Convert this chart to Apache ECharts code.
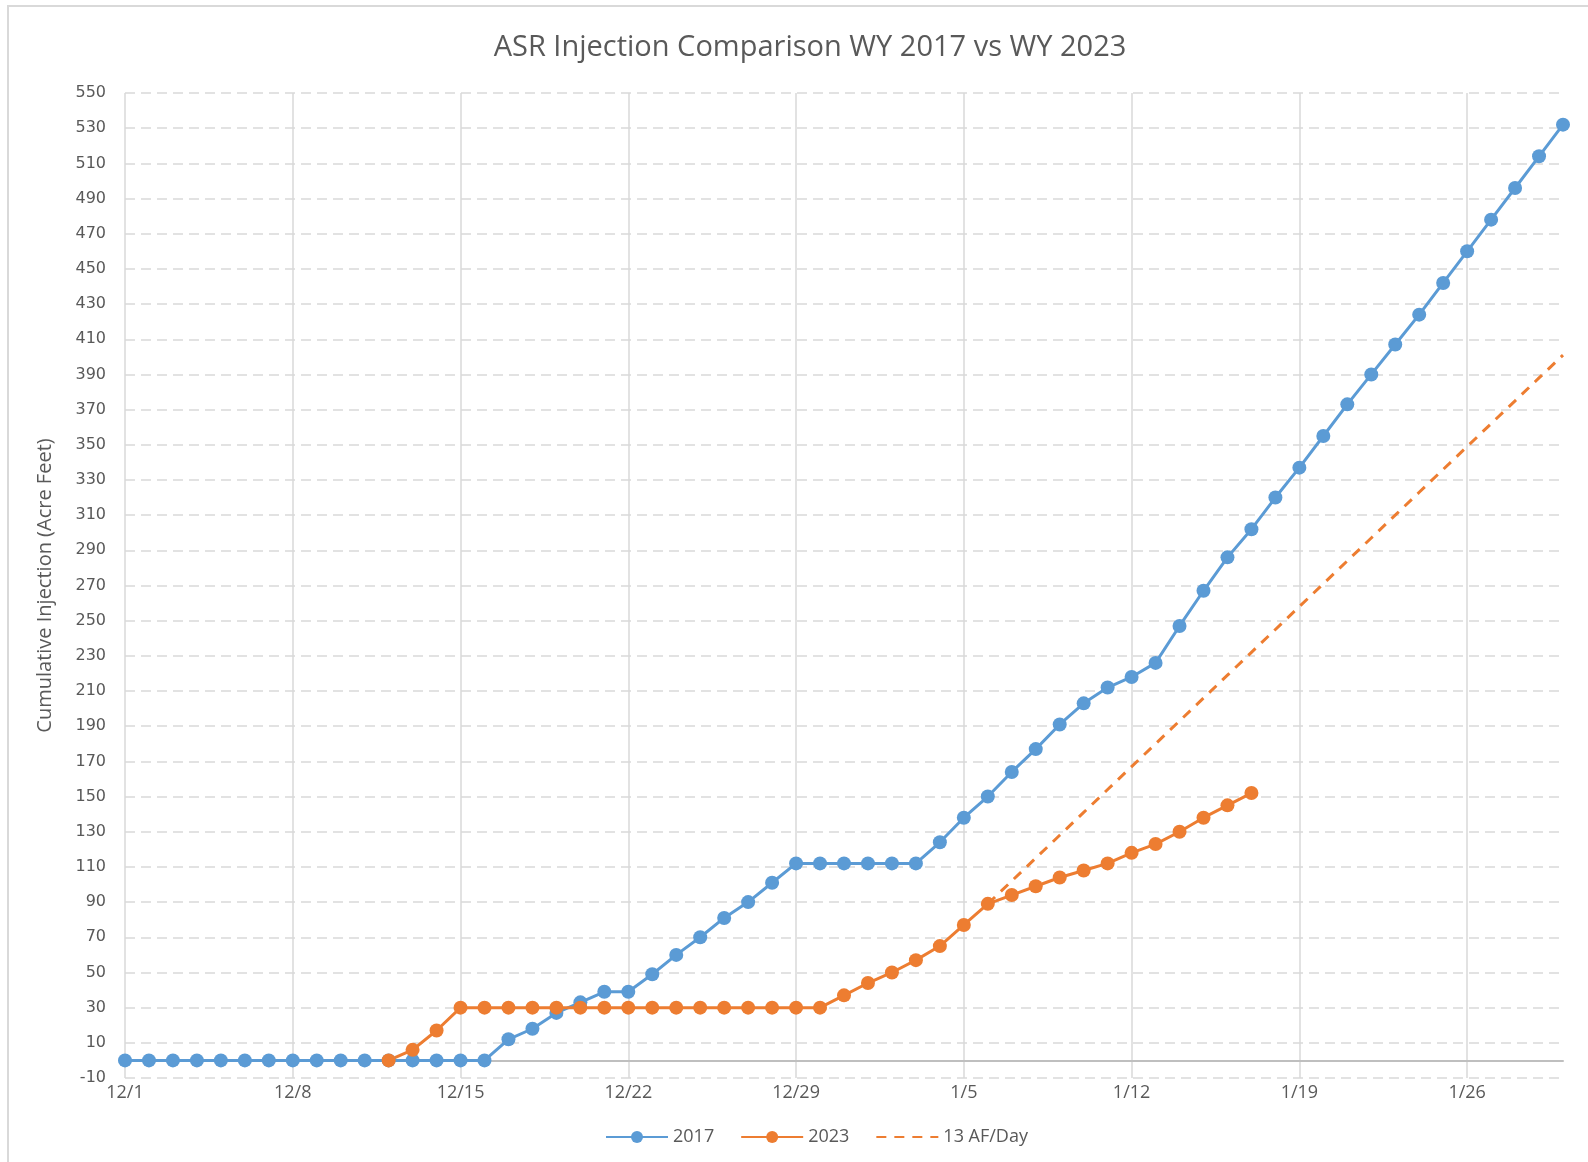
<!DOCTYPE html>
<html>
<head>
<meta charset="utf-8">
<title>ASR Injection Comparison</title>
<script src="https://cdn.jsdelivr.net/npm/echarts@6/dist/echarts.min.js"></script>
<style>
    html, body { margin: 0; padding: 0; background: #fff; }
    #frame { position: absolute; left: 7px; top: 5px; width: 1581px; height: 1157px;
             border-top: 2px solid #d9d9d9; border-left: 2px solid #d9d9d9; }
    #chart { position: absolute; left: 0; top: 0; width: 1588px; height: 1162px; }
</style>
</head>
<body>
<div id="frame"></div>
<div id="chart"></div>
<script>
// dates 12/1 - 1/30
var days = [
    '12/1', '12/2', '12/3', '12/4', '12/5', '12/6', '12/7', '12/8', '12/9', '12/10',
    '12/11', '12/12', '12/13', '12/14', '12/15', '12/16', '12/17', '12/18', '12/19', '12/20',
    '12/21', '12/22', '12/23', '12/24', '12/25', '12/26', '12/27', '12/28', '12/29', '12/30',
    '12/31', '1/1', '1/2', '1/3', '1/4', '1/5', '1/6', '1/7', '1/8', '1/9',
    '1/10', '1/11', '1/12', '1/13', '1/14', '1/15', '1/16', '1/17', '1/18', '1/19',
    '1/20', '1/21', '1/22', '1/23', '1/24', '1/25', '1/26', '1/27', '1/28', '1/29',
    '1/30'
];

// WY 2017
var wy2017 = [
    0, 0, 0, 0, 0, 0, 0, 0, 0, 0,
    0, 0, 0, 0, 0, 0, 12, 18, 27, 33,
    39, 39, 49, 60, 70, 81, 90, 101, 112, 112,
    112, 112, 112, 112, 124, 138, 150, 164, 177, 191,
    203, 212, 218, 226, 247, 267, 286, 302, 320, 337,
    355, 373, 390, 407, 424, 442, 460, 478, 496, 514,
    532
];

// WY 2023 (starts 12/12, ends 1/17)
var wy2023 = [
    null, null, null, null, null, null, null, null, null, null,
    null, 0, 6, 17, 30, 30, 30, 30, 30, 30,
    30, 30, 30, 30, 30, 30, 30, 30, 30, 30,
    37, 44, 50, 57, 65, 77, 89, 94, 99, 104,
    108, 112, 118, 123, 130, 138, 145, 152
];

// 13 AF/Day target from 1/6
var target = [
    null, null, null, null, null, null, null, null, null, null,
    null, null, null, null, null, null, null, null, null, null,
    null, null, null, null, null, null, null, null, null, null,
    null, null, null, null, null, null, 89, 102, 115, 128,
    141, 154, 167, 180, 193, 206, 219, 232, 245, 258,
    271, 284, 297, 310, 323, 336, 349, 362, 375, 388,
    401
];

var seriesNames = ['2017', '2023', '13 AF/Day'];
var yMin = -10, yMax = 550, yStep = 20;

var BLUE = '#5B9BD5', ORANGE = '#ED7D31', TEXT = '#595959', GRID = '#d9d9d9';

var chart = echarts.init(document.getElementById('chart'));
var option = {
    animation: false,
    backgroundColor: 'transparent',
    title: {
        text: 'ASR Injection Comparison WY 2017 vs WY 2023',
        left: 805,
        textAlign: 'center',
        top: 28,
        textStyle: { fontFamily: 'Open Sans', fontSize: 29, fontWeight: 'normal', color: TEXT }
    },
    legend: {
        data: [
            { name: seriesNames[0] },
            { name: seriesNames[1] },
            { name: seriesNames[2], itemStyle: { opacity: 0 } }
        ],
        bottom: 11,
        left: 600,
        itemWidth: 62,
        itemHeight: 15,
        itemGap: 26,
        textStyle: { fontFamily: 'Open Sans', fontSize: 18, color: TEXT }
    },
    grid: { left: 125, right: 25, top: 93, bottom: 84 },
    xAxis: {
        type: 'category',
        data: days,
        boundaryGap: false,
        axisLine: { onZero: true, lineStyle: { color: '#bfbfbf', width: 2 } },
        axisTick: { show: false },
        axisLabel: {
            interval: 6, margin: 6,
            fontFamily: 'Open Sans', fontSize: 18, color: TEXT
        },
        splitLine: {
            show: true, interval: 6,
            lineStyle: { color: GRID, width: 1.5 }
        }
    },
    yAxis: {
        type: 'value',
        min: yMin,
        max: yMax,
        interval: yStep,
        name: 'Cumulative Injection (Acre Feet)',
        nameLocation: 'middle',
        nameGap: 70,
        nameRotate: 90,
        nameTextStyle: { fontFamily: 'Open Sans', fontSize: 20, color: TEXT },
        axisLine: { show: false },
        axisTick: { show: false },
        axisLabel: { margin: 19, fontFamily: 'DejaVu Sans', fontSize: 16, color: TEXT },
        splitLine: { lineStyle: { color: GRID, width: 1.5, type: [10, 6] } }
    },
    series: [
        {
            name: seriesNames[0],
            type: 'line',
            data: wy2017,
            color: BLUE,
            symbol: 'circle',
            symbolSize: 14,
            lineStyle: { width: 3 }
        },
        {
            name: seriesNames[1],
            type: 'line',
            data: wy2023,
            color: ORANGE,
            symbol: 'circle',
            symbolSize: 14,
            lineStyle: { width: 3 }
        },
        {
            name: seriesNames[2],
            type: 'line',
            data: target,
            color: ORANGE,
            symbol: 'none',
            z: 1,
            lineStyle: { width: 3, type: [10, 8] }
        }
    ]
};
chart.setOption(option);
</script>
</body>
</html>
